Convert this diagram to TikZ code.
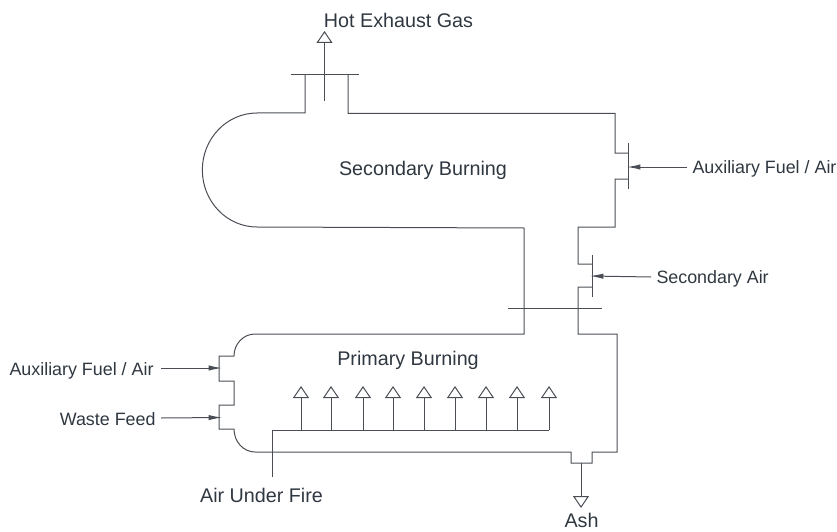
\documentclass[tikz,border=0pt]{standalone}
\usepackage{fontspec}
\setmainfont{Liberation Sans}
\usepackage{xcolor}
\usetikzlibrary{arrows.meta,positioning,calc}
\definecolor{wallgrey}{HTML}{4A4E54}
\definecolor{labelgrey}{HTML}{2F3740}

\begin{document}
\begin{tikzpicture}[x=0.75pt,y=-0.75pt,>=Stealth,line width=0.75pt,draw=wallgrey,
  lb/.style={inner sep=0pt,text=labelgrey,text height=10pt,text depth=3pt,font=\fontsize{14.8}{16}\selectfont},
  ls/.style={inner sep=0pt,text=labelgrey,text height=10pt,text depth=3pt,font=\fontsize{13.4}{16}\selectfont},
  inlet/.style={-{Latex[length=10pt,width=4pt]},wallgrey},
  outlet/.style={-{Triangle[open,length=9pt,width=12pt]},wallgrey}]
\useasboundingbox (0,0) rectangle (837,531);
% labels
\node[lb] (HG) at (398.5,23) {Hot Exhaust Gas};
\node[lb] (SB) at (423,171) {Secondary Burning};
\node[lb] (PB) at (408,361) {Primary Burning};
\node[ls,anchor=west] (AR) at (692,169) {Auxiliary Fuel / Air};
\node[ls,anchor=west] (SA) at (656,279) {Secondary Air};
\node[ls,anchor=east] (AL) at (154,371) {Auxiliary Fuel / Air};
\node[ls,anchor=east] (WF) at (156,421) {Waste Feed};
\node[lb] (AU) at (261.5,498) {Air Under Fire};
\node[lb,text depth=0pt] (AS) at (581.5,520.5) {Ash};
% secondary chamber
\draw (305,75) -- (305,113) -- (257,113) arc[start angle=90,end angle=270,x radius=41pt,y radius=42.75pt]
  -- (524,228) -- (524,334) -- (255,334) arc[start angle=90,end angle=180,x radius=15.75pt,y radius=16.5pt]
  -- (219,356) -- (219,381) -- (234,381) -- (234,405) -- (219,405) -- (219,429) -- (234,429)
  arc[start angle=180,end angle=270,x radius=15.75pt,y radius=17.25pt]
  -- (571,452) -- (571,463) -- (592,463) -- (592,452) -- (617,452) -- (617,334) -- (578,334)
  -- (578,287) -- (592,287) (592,264) -- (578,264) -- (578,227) -- (615,227) -- (615,179) -- (628,179)
  (628,153) -- (615,153) -- (615,113.5) -- (348,113.5) -- (348,75);
% flanges
\draw (291,75) -- (359,75);
\draw (628,143) -- (628,189);
\draw (592,255) -- (592,297);
\draw (508,308) -- (602,308);
% air manifold
\coordinate (M0) at (272,430);
\coordinate (M1) at (549,430);
\coordinate (MA) at (272,477);
\draw (MA) -- (M0) -- (M1);
\foreach \x/\n in {301/1,331/2,363/3,393/4,424/5,455/6,486/7,517/8,549/9}{
  \coordinate (R\n) at (\x,430);
  \coordinate (T\n) at (\x,386);
  \draw[outlet] (R\n) -- (T\n);}
% outlets
\coordinate (G0) at (324.5,101);
\coordinate (G1) at (324.5,31);
\draw[outlet] (G0) -- (G1);
\coordinate (A0) at (581,463);
\coordinate (A1) at (581,508);
\draw[outlet] (A0) -- (A1);
% inlets
\coordinate (AR1) at (627,167);
\coordinate (SA1) at (590,276);
\coordinate (AL1) at (222,368);
\coordinate (WF1) at (222,417.5);
\draw[inlet] ([xshift=-3.75pt,yshift=1.5pt]AR.west) -- (AR1);
\draw[inlet] ([xshift=-3.75pt,yshift=1.5pt]SA.west) -- (SA1);
\draw[inlet] ([xshift=5.25pt,yshift=2.25pt]AL.east) -- (AL1);
\draw[inlet] ([xshift=3.75pt,yshift=2.25pt]WF.east) -- (WF1);
\end{tikzpicture}
\end{document}
